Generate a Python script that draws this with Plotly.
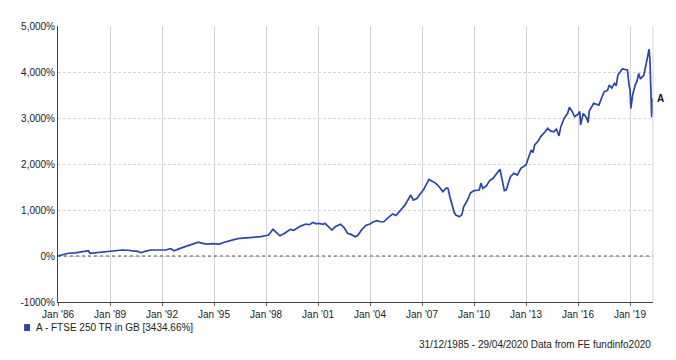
import plotly.graph_objects as go
import pandas as pd

years = [1985.997, 1986.3, 1986.6, 1987.0, 1987.2, 1987.5, 1987.75, 1987.85, 1988.2, 1988.5,
         1988.8, 1989.1, 1989.4, 1989.7, 1990.0, 1990.3, 1990.6, 1990.8, 1991.1, 1991.4,
         1991.8, 1992.2, 1992.5, 1992.7, 1993.0, 1993.3, 1993.7, 1994.1, 1994.4, 1994.6,
         1994.9, 1995.3, 1995.6, 1995.9, 1996.2, 1996.5, 1996.9, 1997.3, 1997.7, 1997.95,
         1998.15, 1998.4, 1998.6, 1998.8, 1999.1, 1999.4, 1999.6, 1999.8, 2000.0, 2000.3,
         2000.5, 2000.7, 2000.9, 2001.05, 2001.3, 2001.4, 2001.7, 2001.8, 2002.0, 2002.3,
         2002.5, 2002.7, 2002.9, 2003.15, 2003.3, 2003.5, 2003.75, 2004.0, 2004.2, 2004.4,
         2004.6, 2004.8, 2005.0, 2005.3, 2005.5, 2005.8, 2006.0, 2006.35, 2006.5, 2006.7,
         2006.9, 2007.1, 2007.4, 2007.6, 2007.8, 2008.0, 2008.2, 2008.4, 2008.5, 2008.6,
         2008.7, 2008.85, 2008.95, 2009.15, 2009.3, 2009.4, 2009.6, 2009.8, 2010.0, 2010.3,
         2010.4, 2010.5, 2010.7, 2010.9, 2011.1, 2011.3, 2011.5, 2011.6, 2011.75, 2011.85,
         2012.1, 2012.3, 2012.5, 2012.7, 2012.9, 2013.0, 2013.2, 2013.3, 2013.4, 2013.5,
         2013.7, 2013.85, 2014.1, 2014.25, 2014.4, 2014.6, 2014.75, 2014.9, 2015.0, 2015.2,
         2015.4, 2015.5, 2015.65, 2015.8, 2016.0, 2016.1, 2016.15, 2016.3, 2016.5, 2016.58,
         2016.65, 2016.9, 2017.2, 2017.4, 2017.5, 2017.7, 2017.8, 2017.95, 2018.1, 2018.2,
         2018.3, 2018.55, 2018.7, 2018.85, 2018.95, 2019.0, 2019.05, 2019.15, 2019.3, 2019.4,
         2019.5, 2019.6, 2019.8, 2019.95, 2020.05, 2020.1, 2020.15, 2020.2, 2020.22, 2020.25,
         2020.28, 2020.33]
returns = [0, 30, 60, 70, 80, 105, 115, 60, 75, 87,
           95, 108, 120, 130, 125, 115, 100, 72, 110, 130,
           125, 130, 160, 115, 160, 200, 240, 300, 270, 260,
           270, 260, 300, 335, 360, 385, 395, 405, 420, 440,
           455, 580, 500, 440, 500, 580, 560, 615, 650, 695,
           680, 730, 700, 710, 690, 710, 600, 565, 640, 690,
           620, 495, 470, 420, 450, 560, 665, 695, 745, 770,
           745, 745, 820, 915, 880, 1000, 1100, 1325, 1215, 1250,
           1360, 1450, 1665, 1615, 1580, 1500, 1400, 1480, 1470, 1300,
           1145, 950, 890, 855, 900, 1070, 1200, 1375, 1420, 1435,
           1580, 1470, 1520, 1640, 1690, 1800, 1885, 1700, 1420, 1435,
           1725, 1800, 1760, 1905, 1960, 1980, 2200, 2305, 2250, 2415,
           2500, 2595, 2700, 2775, 2720, 2700, 2760, 2610, 2800, 2995,
           3100, 3235, 3150, 3030, 3080, 3140, 2850, 3100, 3000, 2900,
           3150, 3320, 3280, 3450, 3570, 3600, 3715, 3650, 3755, 3700,
           3935, 4065, 4050, 4045, 3700, 3610, 3210, 3500, 3715, 3800,
           3970, 3850, 3935, 4185, 4400, 4495, 4260, 3800, 3400, 3015,
           3200, 3434.66]

tick_years = [1986, 1989, 1992, 1995, 1998, 2001, 2004, 2007, 2010, 2013, 2016, 2019]
tick_labels = ["Jan '86", "Jan '89", "Jan '92", "Jan '95", "Jan '98", "Jan '01",
               "Jan '04", "Jan '07", "Jan '10", "Jan '13", "Jan '16", "Jan '19"]
y_ticks = [-1000, 0, 1000, 2000, 3000, 4000, 5000]
y_labels = ["-1000%", "0%", "1,000%", "2,000%", "3,000%", "4,000%", "5,000%"]

series_name = "A - FTSE 250 TR in GB [3434.66%]"
footer = "31/12/1985 - 29/04/2020 Data from FE fundinfo2020"
start_date, end_date = "1985-12-31", "2020-04-29"


def to_date(y):
    base = pd.Timestamp(int(y), 1, 1)
    nxt = pd.Timestamp(int(y) + 1, 1, 1)
    return base + (nxt - base) * (y - int(y))


dates = [to_date(y) for y in years]
dates[0] = pd.Timestamp(start_date)
dates[-1] = pd.Timestamp(end_date)
tick_dates = [pd.Timestamp(y, 1, 1) for y in tick_years]

LINE = "#2b45a8"
FONT = "Liberation Sans, Arial, sans-serif"

fig = go.Figure()
fig.add_trace(go.Scatter(x=dates, y=returns, mode="lines",
                         line=dict(color=LINE, width=1.7), showlegend=False,
                         hoverinfo="skip"))

fig.update_layout(
    width=676, height=360,
    margin=dict(l=58, r=23, t=26, b=58, autoexpand=False),
    paper_bgcolor="white", plot_bgcolor="white",
    font=dict(family=FONT, size=10, color="#222"),
    showlegend=False,
    xaxis=dict(type="date", range=[start_date, end_date], automargin=False,
               tickvals=tick_dates, ticktext=tick_labels,
               showgrid=True, gridcolor="#d4d4d4", gridwidth=1,
               showline=True, linecolor="#444", linewidth=1,
               ticks="outside", ticklen=3, tickcolor="#666",
               zeroline=False, tickfont=dict(size=10, color="#222")),
    yaxis=dict(range=[-1000, 5000], tickvals=y_ticks, ticktext=y_labels, automargin=False,
               showgrid=True, gridcolor="#d6d6d6", griddash="3px,2px", gridwidth=1,
               showline=True, linecolor="#444", linewidth=1,
               zeroline=False, ticks="", tickfont=dict(size=10, color="#222")),
    shapes=[
        dict(type="line", xref="paper", x0=0, x1=1, yref="y", y0=0, y1=0,
             line=dict(color="#555", width=1, dash="dot")),
        dict(type="line", xref="paper", x0=1, x1=1, yref="paper", y0=0, y1=1,
             line=dict(color="#d4d4d4", width=1)),
        dict(type="rect", xref="paper", yref="paper",
             x0=-0.057, x1=-0.047, y0=-0.105, y1=-0.08,
             fillcolor=LINE, line=dict(width=0)),
    ],
    annotations=[
        dict(x=end_date, y=returns[-1], xref="x", yref="y", text="<b>A</b>",
             showarrow=False, xanchor="left", xshift=2, yshift=0,
             font=dict(size=10, color="#111")),
        dict(x=-0.04, y=-0.0925, xref="paper", yref="paper", text=series_name,
             showarrow=False, xanchor="left", yanchor="middle",
             font=dict(size=10, color="#222")),
        dict(x=1.0, y=-0.155, xref="paper", yref="paper", text=footer,
             showarrow=False, xanchor="right", yanchor="middle",
             font=dict(size=10, color="#222")),
    ],
)

fig.write_html("out.html", config={"displayModeBar": False},
               post_script="document.body.style.margin='0';document.body.style.overflow='hidden';")
